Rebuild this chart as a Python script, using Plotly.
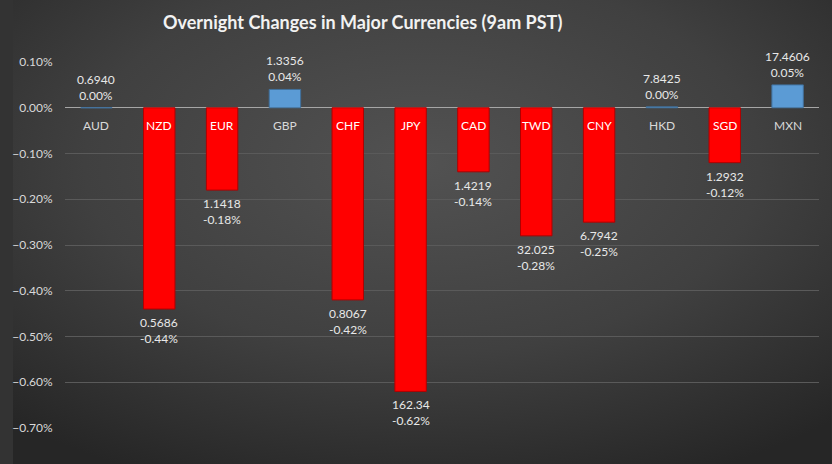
import plotly.graph_objects as go
import base64

currencies = ["AUD", "NZD", "EUR", "GBP", "CHF", "JPY", "CAD", "TWD", "CNY", "HKD", "SGD", "MXN"]
changes = [0.0000, -0.0044, -0.0018, 0.0004, -0.0042, -0.0062, -0.0014, -0.0028, -0.0025, 0.00002, -0.0012, 0.0005]
rates = ["0.6940", "0.5686", "1.1418", "1.3356", "0.8067", "162.34", "1.4219", "32.025", "6.7942", "7.8425", "1.2932", "17.4606"]
pct_labels = ["0.00%", "-0.44%", "-0.18%", "0.04%", "-0.42%", "-0.62%", "-0.14%", "-0.28%", "-0.25%", "0.00%", "-0.12%", "0.05%"]
y_ticks = [0.001, 0.0, -0.001, -0.002, -0.003, -0.004, -0.005, -0.006, -0.007]

W, H = 832, 464
ML, MR, MT, MB = 53, 13, 62, 36

FONT = "Lato"
RED, RED_LINE = "#ff0000", "#b00000"
BLUE, BLUE_LINE = "#5b9bd5", "#41719c"

colors = [BLUE if v >= 0 else RED for v in changes]
lines = [BLUE_LINE if v >= 0 else RED_LINE for v in changes]

fig = go.Figure(go.Bar(
    x=currencies, y=changes,
    marker=dict(color=colors, line=dict(color=lines, width=1)),
    width=0.5, hoverinfo="skip",
))

annotations = []
for c, v, r, p in zip(currencies, changes, rates, pct_labels):
    if v < 0:
        annotations.append(dict(x=c, y=v, text=f"{r}<br>{p}", showarrow=False,
                                yanchor="top", yshift=-4,
                                font=dict(family=FONT, size=12, color="#e8e8e8")))
        annotations.append(dict(x=c, y=0, text=c, showarrow=False, yanchor="top", yshift=-8,
                                font=dict(family=FONT, size=12, color="#ffffff")))
    else:
        annotations.append(dict(x=c, y=v, text=f"{r}<br>{p}", showarrow=False,
                                yanchor="bottom", yshift=3,
                                font=dict(family=FONT, size=12, color="#e8e8e8")))
        annotations.append(dict(x=c, y=0, text=c, showarrow=False, yanchor="top", yshift=-8,
                                font=dict(family=FONT, size=12, color="#d9d9d9")))

annotations.append(dict(xref="paper", yref="paper", x=(355 - ML) / (W - ML - MR),
                        y=1 + (MT - 22) / (H - MT - MB), xanchor="center", yanchor="middle",
                        text="<b>Overnight Changes in Major Currencies (9am PST)</b>",
                        showarrow=False, font=dict(family=FONT, size=18, color="#f2f2f2")))

svg = """<svg xmlns='http://www.w3.org/2000/svg' width='832' height='464' viewBox='0 0 832 464' preserveAspectRatio='none'>
<defs><radialGradient id='g' cx='0.5' cy='0.35' r='0.75' gradientUnits='objectBoundingBox'>
<stop offset='0' stop-color='#525252'/><stop offset='0.55' stop-color='#404040'/><stop offset='1' stop-color='#262626'/>
</radialGradient></defs><rect width='832' height='464' fill='url(#g)'/></svg>"""
src = "data:image/svg+xml;base64," + base64.b64encode(svg.encode()).decode()

pw, ph = W - ML - MR, H - MT - MB
fig.add_layout_image(dict(source=src, xref="paper", yref="paper",
                          x=-ML / pw, y=1 + MT / ph, sizex=W / pw, sizey=H / ph,
                          xanchor="left", yanchor="top", sizing="stretch", layer="below"))

fig.update_layout(
    width=W, height=H,
    margin=dict(l=ML, r=MR, t=MT, b=MB, pad=0),
    paper_bgcolor="#333333", plot_bgcolor="rgba(0,0,0,0)",
    showlegend=False, annotations=annotations,
    xaxis=dict(showticklabels=False, showgrid=False, zeroline=False, showline=False,
               range=[-0.5, len(currencies) - 0.5]),
    yaxis=dict(range=[-0.007, 0.001], tickvals=y_ticks, tickformat=".2%",
               showgrid=True, gridcolor="#5a5a5a", gridwidth=1,
               zeroline=True, zerolinecolor="#a6a6a6", zerolinewidth=1,
               showline=False, ticks="outside", ticklen=9, tickcolor="rgba(0,0,0,0)",
               tickfont=dict(family=FONT, size=12, color="#d9d9d9")),
)

fig.write_html("out.html")
